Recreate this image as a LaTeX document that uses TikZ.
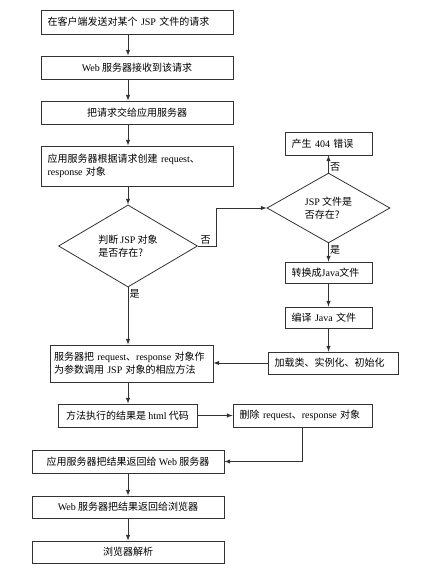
\documentclass[tikz,border=0pt]{standalone}
\usepackage{fontspec}
\setmainfont{Noto Sans CJK SC}
\newfontfamily\lt{Liberation Serif}
\usetikzlibrary{shapes.geometric}
\tikzset{
	flow/.style={draw=black!80, line width=0.5pt, -latex},
	stepbox/.style={draw=black!80, line width=0.6pt, inner xsep=5pt, inner ysep=1pt,
			font=\fontsize{7.5}{10}\selectfont},
	decision/.style={diamond, draw=black!80, line width=0.6pt, inner sep=0pt, align=left,
			font=\fontsize{7.5}{10}\selectfont},
	tag/.style={font=\fontsize{7.5}{9}\selectfont, inner sep=1pt},
}
\begin{document}
\begin{tikzpicture}[x=0.75pt, y=-0.75pt]
	\path[use as bounding box] (0,0) rectangle (427,573);
	\coordinate (axis) at (128,0);
	% main column
	\node[stepbox, text width=134pt, minimum height=18pt, align=left] (req) at (137,22) {在客户端发送对某个~{\lt JSP}~文件的请求};
	\node[stepbox, minimum width=144pt, minimum height=17.25pt] (web) at (137,67.5) {{\lt Web} 服务器接收到该请求};
	\node[stepbox, minimum width=144pt, minimum height=17.25pt] (pass) at (137,112.5) {把请求交给应用服务器};
	\node[stepbox, text width=134pt, minimum height=30pt, align=left] (create) at (137,166) {应用服务器根据请求创建~{\lt request}、\\{\lt response}~对象};
	\node[decision, minimum width=104.25pt, minimum height=56.25pt] (jspobj) at (128,246) {判断~{\lt JSP}~对象\\是否存在?};
	\node[stepbox, inner xsep=3pt, text width=116.25pt, minimum height=27.75pt, align=left] (invoke) at (131.5,363.5) {\mbox{服务器把~{\lt request}、{\lt response}~对象作}\\\mbox{为参数调用~{\lt JSP}~对象的相应方法}};
	\node[stepbox, minimum width=104.25pt, minimum height=17.25pt] (html) at (127.5,415.5) {方法执行的结果是~{\lt html}~代码};
	\node[stepbox, minimum width=144pt, minimum height=17.25pt] (back) at (128,461.5) {应用服务器把结果返回给~{\lt Web}~服务器};
	\node[stepbox, minimum width=144pt, minimum height=16.5pt] (browser) at (128,507) {{\lt Web}~服务器把结果返回给浏览器};
	\node[stepbox, minimum width=144pt, minimum height=16.5pt] (parse) at (128,552) {浏览器解析};
	% right column
	\node[decision, minimum width=92.25pt, minimum height=44.25pt] (jspfile) at (328.5,208) {{\lt JSP}~文件是\\否存在?};
	\node[stepbox, text width=55.25pt, minimum height=17.25pt, align=left] (err) at (328.5,143.5) {产生~{\lt 404}~错误};
	\node[stepbox, text width=55.25pt, minimum height=15.75pt, align=left] (conv) at (328.5,272.5) {转换成{\lt Java}文件};
	\node[stepbox, text width=55.25pt, minimum height=15.75pt, align=left] (compile) at (328.5,317.5) {编译~{\lt Java}~文件};
	\node[stepbox, text width=87.5pt, minimum height=16.5pt, align=left] (load) at (333,363) {加载类、实例化、初始化};
	\node[stepbox, text width=94.25pt, minimum height=17.25pt, align=left] (del) at (302.5,415.5) {删除~{\lt request}、{\lt response}~对象};

	\draw[flow] (req.south -| axis) -- (web.north -| axis);
	\draw[flow] (web.south -| axis) -- (pass.north -| axis);
	\draw[flow] (pass.south -| axis) -- (create.north -| axis);
	\draw[flow] (create.south -| axis) -- (jspobj.north);
	\draw[flow] (jspobj.south) -- (jspobj.south |- invoke.north) node[tag, pos=0.11, right] {是};
	\draw[flow] (jspobj.east) -- ++(18,0) node[tag, pos=0.5, above, xshift=-1pt] {否} |- (jspfile.west);
	\draw[flow] (jspfile.north) -- (err.south) node[tag, pos=0.35, right] {否};
	\draw[flow] (jspfile.south) -- (conv.north) node[tag, pos=0.36, right] {是};
	\draw[flow] (conv.south) -- (compile.north);
	\draw[flow] (compile.south) -- (compile.south |- load.north);
	\draw[flow] (load.west) -- (load.west -| invoke.east);
	\draw[flow] (invoke.south -| axis) -- (html.north -| axis);
	\draw[flow] (html.east) -- (del.west);
	\draw[flow] (del.south) |- (back.east);
	\draw[flow] (back.south) -- (browser.north);
	\draw[flow] (browser.south) -- (parse.north);
\end{tikzpicture}
\end{document}
